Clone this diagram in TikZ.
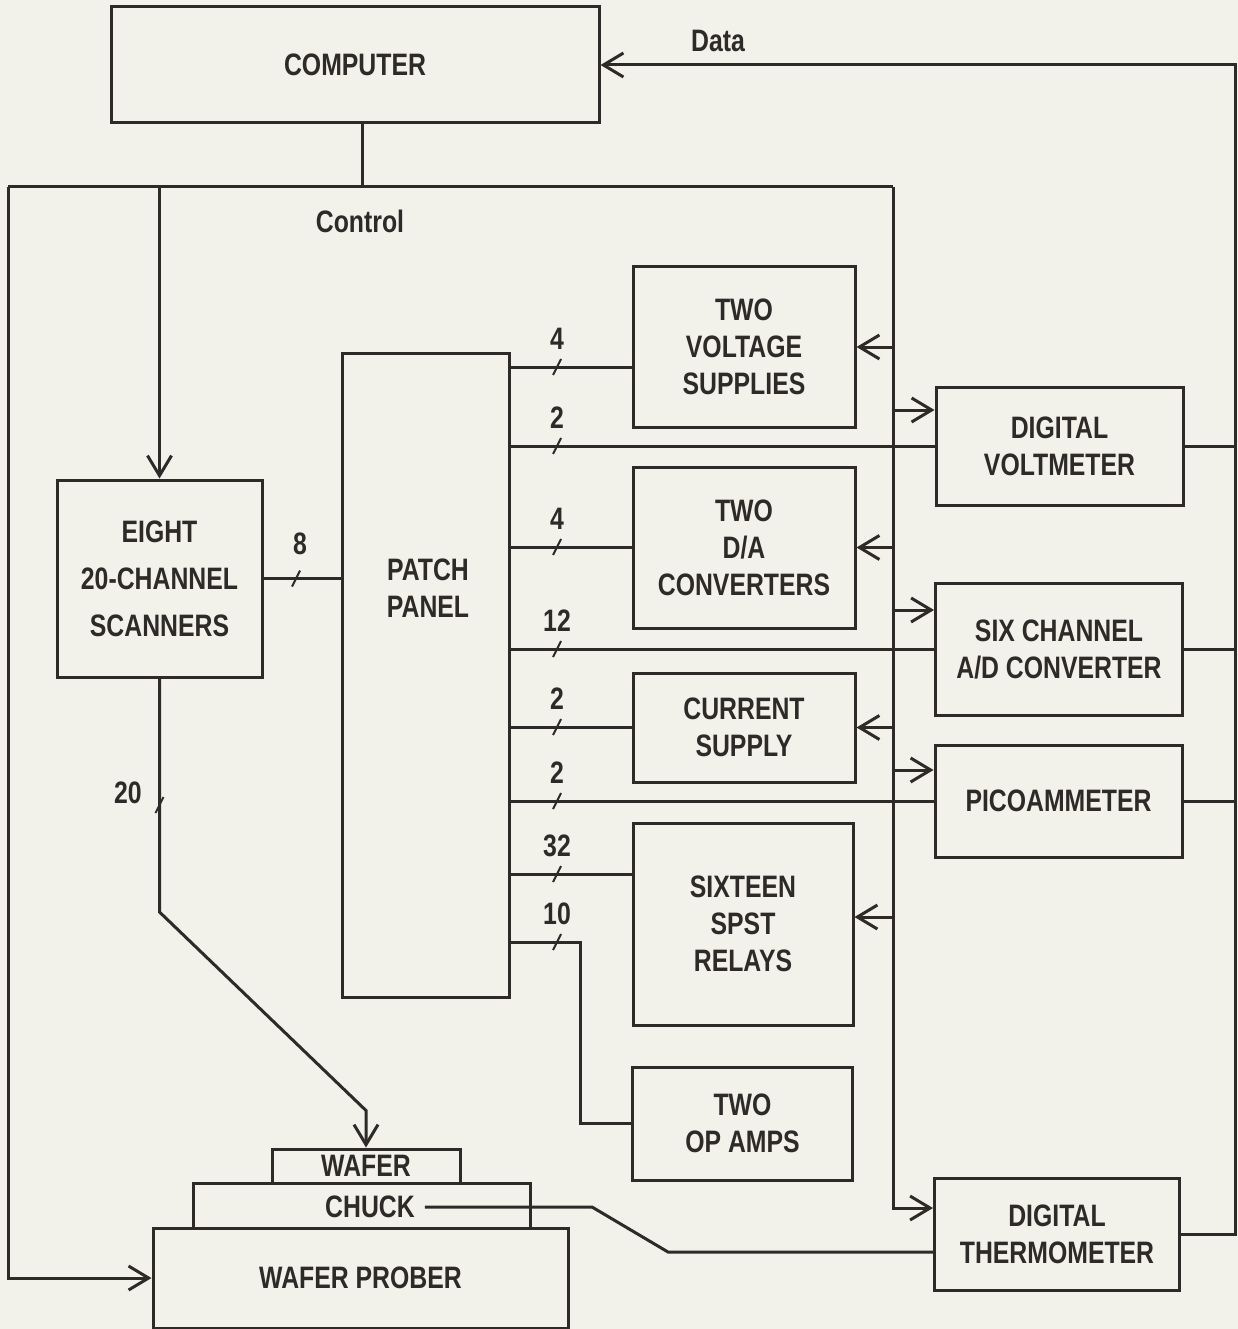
\documentclass[tikz,border=0pt]{standalone}
\usepackage{fontspec}
\setmainfont{Liberation Sans}[FakeStretch=0.8]
\usetikzlibrary{arrows.meta, calc, positioning}
\definecolor{Ink}  {HTML}{2D2A28}
\definecolor{Paper}{HTML}{F2F1EA}
\tikzset{
  blk/.style args={#1/#2}{
    rectangle, draw=Ink, text=Ink,
    font=\fontsize{31}{37}\selectfont\bfseries, align=center,
    inner sep=0pt, minimum width=#1, minimum height=#2,
    line width=3pt,
  },
  lbl/.style={
    text=Ink, font=\fontsize{31}{37}\selectfont\bfseries,
    align=center, inner sep=1pt,
  },
  wire/.style={draw=Ink, line width=3pt},
  arr/.style={wire, -{Straight Barb[length=20pt,width=24pt]}},
  % small slash across a bus line
  busmark/.pic={\draw[Ink, line width=2pt] (-4,8) -- (4,-8);},
}
\begin{document}
\begin{tikzpicture}[x=1pt,y=-1pt]
\fill[Paper] (0,0) rectangle (1238,1329);
\useasboundingbox (0,0) rectangle (1238,1329);

% blocks
\node[blk=488/116] (comp)  at (355,65)      {COMPUTER};
\node[blk=205/197, font=\fontsize{31}{47}\selectfont\bfseries] (scan) at (159.5,578.5) {EIGHT\\20-CHANNEL\\SCANNERS};
\node[blk=167/644] (patch) at (425.5,675)   {};
\node[lbl] (patchtxt) at (428,588) {PATCH\\PANEL};

\node[blk=222/160] (vsup)  at (744,347)     {TWO\\VOLTAGE\\SUPPLIES};
\node[blk=222/161] (dac)   at (744,547.5)   {TWO\\D/A\\CONVERTERS};
\node[blk=222/109] (isup)  at (744,727.5)   {CURRENT\\SUPPLY};
\node[blk=220/202] (relay) at (743,924)     {SIXTEEN\\SPST\\RELAYS};
\node[blk=220/113] (opamp) at (742.5,1123.5){TWO\\OP AMPS};

\node[blk=247/118] (dvm)   at (1059.5,446)  {DIGITAL\\VOLTMETER};
\node[blk=247/132] (adc)   at (1059,649)    {SIX CHANNEL\\A/D CONVERTER};
\node[blk=247/112] (pico)  at (1058.5,801)  {PICOAMMETER};
\node[blk=245/112] (therm) at (1057,1234)   {DIGITAL\\THERMOMETER};

\node[blk=337/45]  (chuck)  at (361.5,1205.5) {};
\node[blk=188/34]  (wafer)  at (366,1166)     {WAFER};
\node[blk=415/100] (prober) at (360.5,1278)   {WAFER PROBER};
\node[lbl] (chucktxt) at (370,1207) {CHUCK};

\node[lbl] (ctrl) at (360,221) {Control};
\node[lbl] (data) at (718,41)  {Data};

% data bus
\coordinate (dtop) at (1235,65);
\draw[arr] (therm.east) -| (dtop) -- (comp.east);
\draw[wire] (dvm.east)  -- (dvm.east -| dtop);
\draw[wire] (adc.east)  -- (adc.east -| dtop);
\draw[wire] (pico.east) -- (pico.east -| dtop);

% control bus
\coordinate (cl) at (8,187);
\coordinate (cr) at (893,187);
\coordinate (ctap) at ([xshift=7pt]comp.south);
\draw[wire] (ctap) -- (ctap |- cl);
\draw[wire] (cl) -- (cr);
\draw[arr] (cl) |- (prober.west);
\draw[arr] (scan.north |- cl) -- (scan.north);
\coordinate (thermin) at ([yshift=26pt]therm.west);
\draw[arr] (cr) |- (thermin);
\draw[arr] (vsup.east -| cr) -- (vsup.east);
\draw[arr] (dac.east -| cr)  -- (dac.east);
\draw[arr] (isup.east -| cr) -- (isup.east);
\coordinate (relayin) at ([yshift=7pt]relay.east);
\draw[arr] (relayin -| cr) -- (relayin);
\coordinate (dvmin)  at ([yshift=36pt]dvm.west);
\coordinate (adcin)  at ([yshift=39pt]adc.west);
\coordinate (picoin) at ([yshift=31pt]pico.west);
\draw[arr] (dvmin -| cr)  -- (dvmin);
\draw[arr] (adcin -| cr)  -- (adcin);
\draw[arr] (picoin -| cr) -- (picoin);

% patch panel wiring
\coordinate (vsupout)  at ([yshift=-20pt]vsup.west);
\coordinate (relayout) at ([yshift=50pt]relay.west);
\coordinate (opbend)   at (580,942);
\draw[wire] (vsupout -| patch.east)  -- (vsupout);
\draw[wire] (dvm.west -| patch.east) -- (dvm.west);
\draw[wire] (dac.west -| patch.east) -- (dac.west);
\draw[wire] (adc.west -| patch.east) -- (adc.west);
\draw[wire] (isup.west -| patch.east) -- (isup.west);
\draw[wire] (pico.west -| patch.east) -- (pico.west);
\draw[wire] (relayout -| patch.east) -- (relayout);
\draw[wire] (opbend -| patch.east) -- (opbend) |- (opamp.west);
\foreach \yy/\nn in {367/4, 446/2, 547/4, 649/12, 727/2, 801/2, 874/32, 942/10}{
  \pic at (557,\yy) {busmark};
  \node[lbl] (cnt\yy) at (557,\yy-28) {\nn};
}

% scanners
\draw[wire] (scan.east) -- (scan.east -| patch.west);
\pic at (296,578.5) {busmark};
\node[lbl] (cnt8) at (300,544) {8};
\coordinate (sbend) at (159.5,912);
\coordinate (wbend) at ($(wafer.north)+(0,-37)$);
\draw[arr] (scan.south) -- (sbend) -- (wbend) -- (wafer.north);
\pic at (159.5,805) {busmark};
\node[lbl] (cnt20) at (128,793) {20};

% chuck temperature
\coordinate (ck1) at (592,1207);
\coordinate (ck2) at (668,1252);
\draw[wire] ([xshift=9pt]chucktxt.east) -- (ck1) -- (ck2) -- (ck2 -| therm.west);
\end{tikzpicture}
\end{document}
